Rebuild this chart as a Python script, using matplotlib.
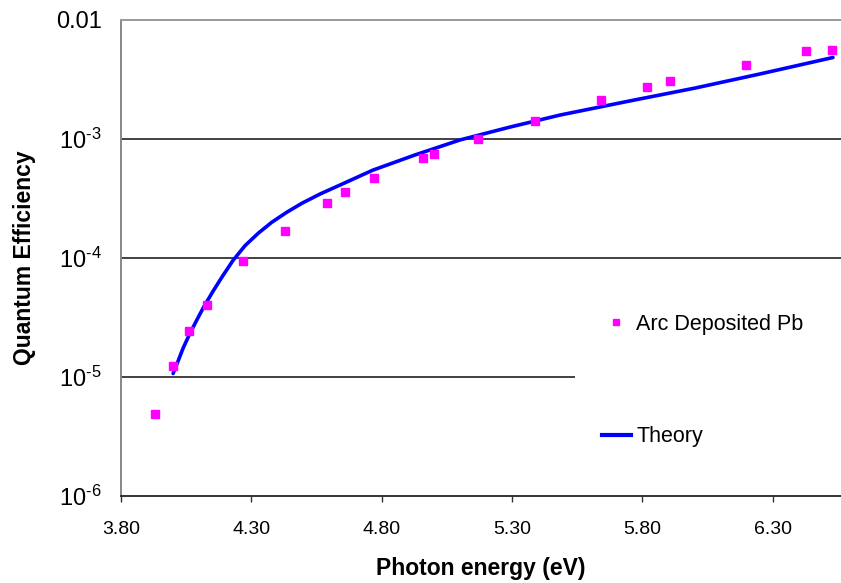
import matplotlib
matplotlib.use("Agg")
import matplotlib.pyplot as plt
from matplotlib.ticker import FixedLocator, FixedFormatter, NullLocator
from matplotlib.lines import Line2D
from matplotlib.patches import Rectangle

plt.rcParams["font.family"] = ["Liberation Sans", "DejaVu Sans"]
plt.rcParams["mathtext.fontset"] = "custom"
plt.rcParams["mathtext.rm"] = "Liberation Sans"

# Measured quantum efficiency of arc-deposited lead
energy_meas = [3.93, 4.00, 4.06, 4.13, 4.27, 4.43, 4.59, 4.66, 4.77, 4.96, 5.00,
               5.17, 5.39, 5.64, 5.82, 5.905, 6.20, 6.43, 6.53]
qe_meas = [4.9e-6, 1.24e-5, 2.44e-5, 4.0e-5, 9.4e-5, 1.69e-4, 2.88e-4, 3.56e-4,
           4.68e-4, 6.92e-4, 7.48e-4, 9.94e-4, 1.42e-3, 2.13e-3, 2.75e-3,
           3.05e-3, 4.19e-3, 5.48e-3, 5.6e-3]

# Theoretical prediction
energy_theory = [4.000, 4.019, 4.038, 4.061, 4.088, 4.118, 4.153, 4.188, 4.230,
                 4.276, 4.326, 4.379, 4.437, 4.495, 4.564, 4.640, 4.767, 4.928,
                 5.101, 5.293, 5.485, 5.753, 6.003, 6.252, 6.532]
qe_theory = [1.07e-5, 1.36e-5, 1.74e-5, 2.24e-5, 2.93e-5, 3.90e-5, 5.25e-5,
             6.95e-5, 9.55e-5, 1.27e-4, 1.61e-4, 2.00e-4, 2.43e-4, 2.89e-4,
             3.45e-4, 4.10e-4, 5.48e-4, 7.34e-4, 9.82e-4, 1.26e-3, 1.59e-3,
             2.09e-3, 2.68e-3, 3.52e-3, 4.84e-3]

x_ticks = [3.80, 4.30, 4.80, 5.30, 5.80, 6.30]
x_tick_labels = ["3.80", "4.30", "4.80", "5.30", "5.80", "6.30"]
y_ticks = [1e-6, 1e-5, 1e-4, 1e-3, 1e-2]
y_tick_labels = [r"$\mathregular{10^{\text{-}6}}$", r"$\mathregular{10^{\text{-}5}}$",
                 r"$\mathregular{10^{\text{-}4}}$", r"$\mathregular{10^{\text{-}3}}$",
                 "0.01"]

W, H = 841, 583
fig = plt.figure(figsize=(W / 100, H / 100), dpi=100)
ax = fig.add_axes([121 / W, (H - 496) / H, 720 / W, 476 / H])

ax.set_yscale("log")
ax.set_xlim(3.80, 3.80 + 720 / 260.6)
ax.set_ylim(1e-6, 1e-2)

# horizontal gridlines at the decades
for yv in [1e-5, 1e-4, 1e-3]:
    ax.axhline(yv, color="#333333", lw=1.3, zorder=1)

ax.plot(energy_theory, qe_theory, color="#0000FF", lw=2.6, zorder=3,
        solid_capstyle="round", solid_joinstyle="round")
ax.plot(energy_meas, qe_meas, ls="none", marker="s", ms=5.2, color="#FF00FF",
        mec="#FF00FF", zorder=4)

ax.xaxis.set_major_locator(FixedLocator(x_ticks))
ax.xaxis.set_major_formatter(FixedFormatter(x_tick_labels))
ax.xaxis.set_minor_locator(NullLocator())
ax.yaxis.set_major_locator(FixedLocator(y_ticks))
ax.yaxis.set_major_formatter(FixedFormatter(y_tick_labels))
ax.yaxis.set_minor_locator(NullLocator())

ax.tick_params(axis="x", direction="out", length=4, width=1, color="#333333",
               labelsize=14, pad=14)
ax.tick_params(axis="y", length=0, labelsize=17, pad=14)

ax.spines["right"].set_visible(False)
ax.spines["left"].set_color("#888888")
ax.spines["left"].set_linewidth(1.4)
ax.spines["top"].set_color("#999999")
ax.spines["top"].set_linewidth(1.4)
ax.spines["bottom"].set_color("#333333")
ax.spines["bottom"].set_linewidth(1.4)

ax.set_xlabel("Photon energy (eV)", fontsize=16.5, fontweight="bold", labelpad=14)
ax.set_ylabel("Quantum Efficiency", fontsize=16.5, fontweight="bold", labelpad=14.5)

# white legend panel
ax.add_patch(Rectangle((575 / W, 1 - 478 / H), 1 - 575 / W, 190 / H,
                       transform=fig.transFigure, facecolor="white",
                       edgecolor="none", zorder=2))

handles = [
    Line2D([], [], ls="none", marker="s", ms=4, color="#FF00FF"),
    Line2D([], [], color="#0000FF", lw=3),
]
leg = ax.legend(handles, ["Arc Deposited Pb", "Theory"],
                loc="upper left", bbox_to_anchor=(575 / W, 1 - 287 / H),
                bbox_transform=fig.transFigure, fontsize=15.5, frameon=False,
                borderpad=1.25, labelspacing=4.25,
                handlelength=1.35, handletextpad=0.25, borderaxespad=0)
leg.set_zorder(5)

fig.savefig("out.png", dpi=100)
